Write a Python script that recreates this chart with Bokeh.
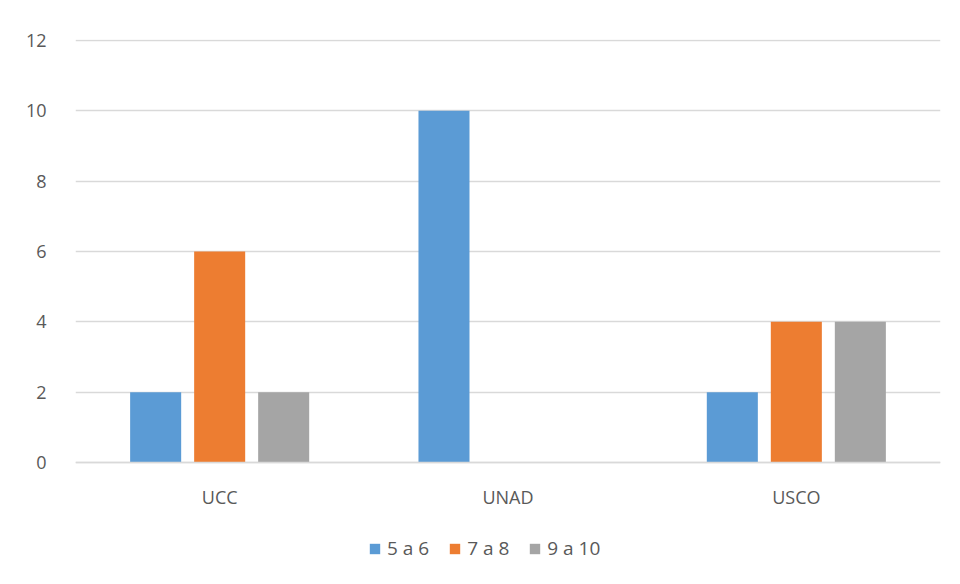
from bokeh.plotting import figure
from bokeh.models import ColumnDataSource, Legend, LegendItem, FixedTicker, Range1d
from bokeh.transform import dodge
from bokeh.embed import file_html
from bokeh.resources import INLINE

categories = ["UCC", "UNAD", "USCO"]
series_names = ["5 a 6", "7 a 8", "9 a 10"]
v_5a6 = [2, 10, 2]
v_7a8 = [6, 0, 4]
v_9a10 = [2, 0, 4]
colors = ["#5B9BD5", "#ED7D31", "#A5A5A5"]
y_ticks = [0, 2, 4, 6, 8, 10, 12]

FONT = "Open Sans"
TXT = "#595959"

src = ColumnDataSource(dict(cat=categories, a=v_5a6, b=v_7a8, c=v_9a10))

# frame spans the full lower area so the legend (drawn inside the frame) is not clipped
p = figure(x_range=categories, y_range=Range1d(-3.2417, 12.0284), width=952, height=576,
           output_backend="svg", toolbar_location=None,
           min_border_left=75, min_border_right=12, min_border_top=39,
           min_border_bottom=0)
p.outline_line_color = None
p.background_fill_color = "white"
p.border_fill_color = "white"

renderers = []
for col, off, colr in zip(["a", "b", "c"], [-0.222, 0.0, 0.222], colors):
    r = p.vbar(x=dodge("cat", off, range=p.x_range), top=col, width=0.177,
               source=src, fill_color=colr, line_color=None)
    renderers.append(r)

p.x_range.range_padding = 0
p.xgrid.grid_line_color = None
p.ygrid.grid_line_color = "#D9D9D9"
p.ygrid.grid_line_width = 1.3
p.yaxis.ticker = FixedTicker(ticks=y_ticks)

for ax in (p.xaxis[0], p.yaxis[0]):
    ax.major_tick_line_color = None
    ax.minor_tick_line_color = None
    ax.major_label_text_font = FONT
    ax.major_label_text_font_size = "18px"
    ax.major_label_text_color = TXT
p.yaxis.axis_line_color = None
p.xaxis.fixed_location = 0
p.xaxis.axis_line_color = "#D9D9D9"
p.xaxis.axis_line_width = 1.5
p.yaxis.major_label_standoff = 23
p.xaxis.major_label_standoff = 17

legend = Legend(items=[LegendItem(label=n, renderers=[r]) for n, r in zip(series_names, renderers)],
                orientation="horizontal", location=(293, 15),
                label_text_font=FONT, label_text_font_size="19px", label_text_color=TXT,
                glyph_width=13, glyph_height=13, spacing=19, label_standoff=6,
                border_line_color=None, background_fill_alpha=0, margin=0, padding=4)
p.add_layout(legend, "center")

open("out.html", "w").write(file_html(p, INLINE))
